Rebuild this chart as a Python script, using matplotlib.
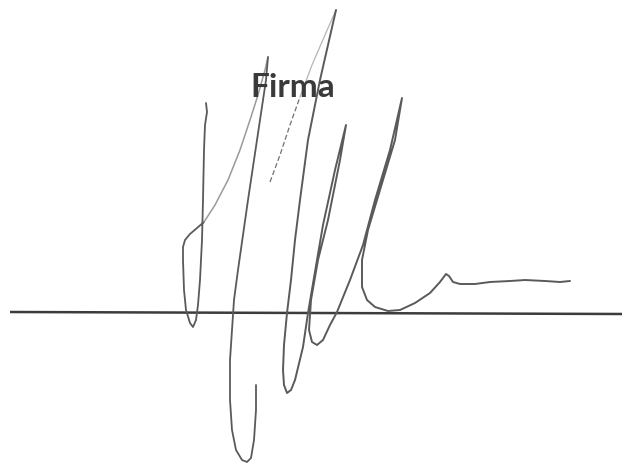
import matplotlib.pyplot as plt

plt.rcParams['font.family'] = ['Lato', 'DejaVu Sans']

# ligne de signature et libellé
line_x = [10, 622]
line_y = [312, 314]
label = 'Firma'
label_xy = (293, 97)

# trait 1 : petite boucle à gauche puis montée vers le premier sommet
s1_x = [206, 207, 205, 204, 203, 202, 200, 198, 196, 193, 190, 186, 184, 183, 183, 185, 190, 197, 204]
s1_y = [103, 112, 125, 150, 200, 240, 280, 305, 320, 327, 323, 310, 290, 260, 247, 240, 234, 228, 222]

# montée fine (plus claire)
s2_x = [204, 215, 228, 240, 250, 258, 265, 268]
s2_y = [222, 205, 180, 150, 120, 95, 70, 57]

# descente vers la grande boucle du bas
s3_x = [268, 266, 260, 254, 248, 243, 238, 234, 232, 230, 230, 232, 236, 242, 247, 251, 254, 256, 256]
s3_y = [57, 80, 120, 160, 200, 235, 270, 300, 330, 360, 400, 430, 450, 460, 462, 458, 440, 410, 385]

# trait pointillé puis très clair vers le grand sommet
s4_x = [270, 280, 290, 300]
s4_y = [182, 155, 125, 97]
s4b_x = [300, 312, 325, 336]
s4b_y = [97, 65, 35, 10]

# grand trait descendant, boucles et queue
s5_x = [336, 320, 308, 300, 295, 291, 287, 284, 283, 284, 287, 291, 295, 303, 308, 317, 323, 335, 346,
        340, 328, 318, 311, 309, 312, 317, 323, 330, 337, 350, 363, 375, 390, 402,
        395, 380, 368, 362, 362, 367, 375, 388, 400, 415, 430, 440, 446, 449, 453, 460,
        475, 490, 510, 525, 545, 560, 570]
s5_y = [10, 80, 140, 200, 240, 280, 313, 345, 370, 385, 393, 390, 380, 347, 313, 260, 225, 170, 125,
        160, 220, 260, 300, 330, 342, 345, 340, 325, 312, 280, 245, 200, 150, 98,
        140, 190, 230, 260, 287, 300, 307, 311, 310, 303, 293, 282, 274, 276, 282, 284,
        284, 282, 281, 280, 281, 282, 281]

fig = plt.figure(figsize=(6.26, 4.63), dpi=100)
ax = fig.add_axes([0, 0, 1, 1])
ax.set_xlim(0, 626)
ax.set_ylim(463, 0)
ax.axis('off')

ax.plot(line_x, line_y, color='#3c3c3c', linewidth=1.8, solid_capstyle='butt')

kw = dict(solid_joinstyle='round', solid_capstyle='round')
ax.plot(s1_x, s1_y, color='#5a5a5a', linewidth=1.3, **kw)
ax.plot(s2_x, s2_y, color='#9a9a9a', linewidth=1.1, **kw)
ax.plot(s3_x, s3_y, color='#5a5a5a', linewidth=1.3, **kw)
ax.plot(s4_x, s4_y, color='#707070', linewidth=0.9, linestyle=(0, (4, 2)), **kw)
ax.plot(s4b_x, s4b_y, color='#b5b5b5', linewidth=0.9, **kw)
ax.plot(s5_x, s5_y, color='#5a5a5a', linewidth=1.4, **kw)

ax.text(label_xy[0], label_xy[1], label, ha='center', va='baseline',
        fontsize=24, fontweight='bold', color='#3a3a3a', zorder=5)

fig.savefig('out.png', dpi=100, facecolor='white')
